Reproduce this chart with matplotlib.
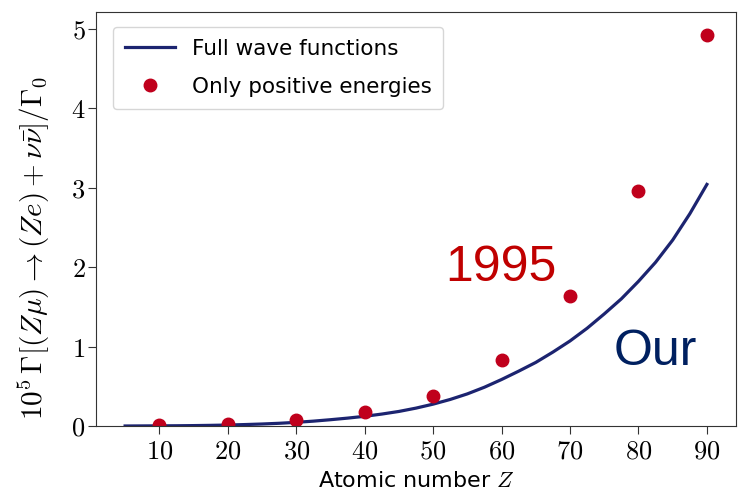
import numpy as np
import matplotlib
matplotlib.use('Agg')
import matplotlib.pyplot as plt

plt.rcParams['mathtext.fontset'] = 'cm'
plt.rcParams['font.family'] = ['DejaVu Sans']

# full wave function result (curve)
z_curve = [5, 7.5, 10, 12.5, 15, 17.5, 20, 22.5, 25, 27.5, 30, 32.5, 35, 37.5,
           40, 42.5, 45, 47.5, 50, 52.5, 55, 57.5, 60, 62.5, 65, 67.5, 70,
           72.5, 75, 77.5, 80, 82.5, 85, 87.5, 90]
gamma_curve = [0.000, 0.001, 0.002, 0.003, 0.005, 0.008, 0.012, 0.018, 0.025,
               0.034, 0.046, 0.061, 0.079, 0.099, 0.122, 0.150, 0.183, 0.225,
               0.275, 0.334, 0.404, 0.488, 0.585, 0.69, 0.80, 0.93, 1.07,
               1.23, 1.41, 1.60, 1.82, 2.06, 2.34, 2.67, 3.04]

# positive energy states only
z_pts = [10, 20, 30, 40, 50, 60, 70, 80, 90]
gamma_pts = [0.01, 0.03, 0.07, 0.17, 0.38, 0.83, 1.64, 2.96, 4.92]

fig = plt.figure(figsize=(7.42, 4.91), dpi=100)
ax = fig.add_axes([0.1294, 0.1324, 0.8625, 0.8432])

ax.plot(z_curve, gamma_curve, color='#1c2470', lw=2.3, label='Full wave functions')
ax.plot(z_pts, gamma_pts, 'o', color='#c0001c', ms=9, label='Only positive energies')

ax.set_xlim(0.75, 94.25)
ax.set_ylim(0, 5.21)
ax.set_xticks(range(10, 100, 10))
ax.set_xticklabels([f'${v}$' for v in range(10, 100, 10)])
ax.set_yticks(range(0, 6))
ax.set_yticklabels([f'${v}$' for v in range(0, 6)])
ax.tick_params(labelsize=19, length=5.5, color='#333333')
ax.tick_params(axis='y', pad=2)
for s in ax.spines.values():
    s.set_color('#333333')

ax.set_xlabel('Atomic number $Z$', fontsize=16, labelpad=5)
ax.set_ylabel(r'$10^5\,\Gamma\left[(Z\mu)\to(Ze)+\nu\bar{\nu}\right]/\Gamma_0$',
              fontsize=21)
ax.yaxis.set_label_coords(-0.068, 0.43)

ax.legend(loc='upper left', fontsize=15.5, frameon=True, edgecolor='#cccccc',
          handlelength=2.3, borderpad=0.55, labelspacing=0.85,
          bbox_to_anchor=(0.01, 0.99))

ax.text(59.9, 1.99, '1995', color='#c00000', fontsize=36, family='Liberation Sans',
        ha='center', va='center')
ax.text(82.4, 0.93, 'Our', color='#002060', fontsize=36, family='Liberation Sans',
        ha='center', va='center')

fig.savefig('out.png', dpi=100)
